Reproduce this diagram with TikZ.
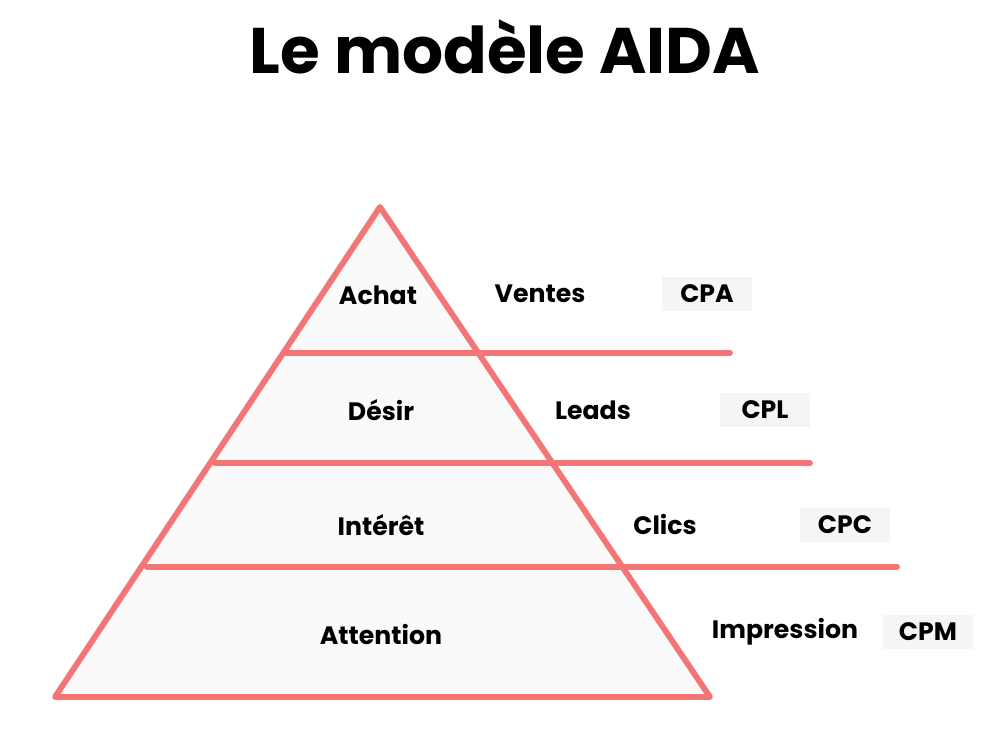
\documentclass[tikz,border=0pt]{standalone}
\usepackage{fontspec}
\setmainfont{Poppins}
\definecolor{pk}{HTML}{F47575}
\definecolor{tri}{HTML}{FAFAFA}
\definecolor{bx}{HTML}{F5F5F5}
\begin{document}
\begin{tikzpicture}[x=0.03cm,y=-0.03cm,
 lbl/.style={font=\bfseries\fontsize{21.5}{24}\selectfont},
 cost/.style={lbl,fill=bx,minimum width=90*0.03cm,minimum height=34*0.03cm,inner sep=0pt},
 pl/.style={draw=pk,line width=5pt,line cap=round,line join=round}]
\useasboundingbox (0,0) rectangle (1000,741);
\node[font=\bfseries\fontsize{55}{60}\selectfont] (title) at (505,47) {Le modèle AIDA};
\coordinate (apex) at (380,207);
\coordinate (bl) at (55,697);
\coordinate (br) at (710,697);
\draw[pl,fill=tri] (apex) -- (bl) -- (br) -- cycle;
\coordinate (a1) at (285.6,353); \coordinate (b1) at (730,353);
\coordinate (a2) at (214.6,463); \coordinate (b2) at (810,463);
\coordinate (a3) at (146.9,567); \coordinate (b3) at (897,567);
\draw[pl] (a1) -- (b1);
\draw[pl] (a2) -- (b2);
\draw[pl] (a3) -- (b3);
\node[lbl] (achat) at (378,295) {Achat};
\node[lbl] (desir) at (381,410) {Désir};
\node[lbl] (interet) at (381,525) {Intérêt};
\node[lbl] (attention) at (381,635) {Attention};
\node[lbl] (ventes) at (540,294) {Ventes};
\node[lbl] (leads) at (593,410) {Leads};
\node[lbl] (clics) at (665,525) {Clics};
\node[lbl] (impr) at (785,632) {Impression};
\node[cost] (cpa) at (707,294) {CPA};
\node[cost] (cpl) at (765,410) {CPL};
\node[cost] (cpc) at (845,525) {CPC};
\node[cost] (cpm) at (928,632) {CPM};
\end{tikzpicture}
\end{document}
